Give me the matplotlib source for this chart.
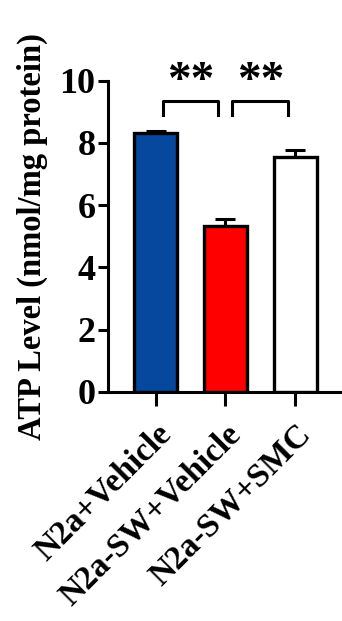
import numpy as np
import matplotlib.pyplot as plt

plt.rcParams['font.family'] = 'Liberation Serif'
plt.rcParams['font.weight'] = 'bold'

# donnees
groupes = ['N2a+Vehicle', 'N2a-SW+Vehicle', 'N2a-SW+SMC']
atp = [8.32, 5.34, 7.55]
sem = [0.08, 0.21, 0.23]
couleurs = ['#05489e', '#ff0000', '#ffffff']
signif = [(0, 1, '**'), (1, 2, '**')]

fig = plt.figure(figsize=(3.42, 6.21), dpi=100)
ax = fig.add_axes([0.316, 0.369, 0.684, 0.501])

x = np.arange(len(groupes))
ax.errorbar(x, atp, yerr=[np.zeros(len(sem)), sem], fmt='none', ecolor='black',
            elinewidth=2.2, capsize=7, capthick=2.2, zorder=1)
ax.bar(x, atp, width=0.61, color=couleurs, edgecolor='black', linewidth=2.4, zorder=2)

# crochets de significativite
for i, j, txt in signif:
    y0, y1 = 8.9, 9.34
    ax.plot([i + 0.1, i + 0.1, j - 0.1, j - 0.1], [y0, y1, y1, y0], color='black',
            lw=2.2, clip_on=False)
    ax.text((i + j) / 2, 9.95, txt, ha='center', va='center', fontsize=34,
            fontweight='bold')

ax.set_xlim(-0.68, 2.67)
ax.set_ylim(0, 10)
ax.set_yticks([0, 2, 4, 6, 8, 10])
ax.set_xticks(x)
ax.set_xticklabels(groupes, rotation=45, ha='right', rotation_mode='anchor',
                   fontsize=24, fontweight='bold')
ax.tick_params(axis='y', labelsize=26, width=2.2, length=7, pad=2)
ax.tick_params(axis='x', width=2.2, length=10, pad=9)
for lbl in ax.get_yticklabels():
    lbl.set_fontweight('bold')
ax.set_ylabel('ATP Level (nmol/mg protein)', fontsize=23.5, fontweight='bold', labelpad=8)
ax.spines['top'].set_visible(False)
ax.spines['right'].set_visible(False)
ax.spines['left'].set_linewidth(2.2)
ax.spines['bottom'].set_linewidth(2.2)

fig.savefig('out.png', dpi=100)
